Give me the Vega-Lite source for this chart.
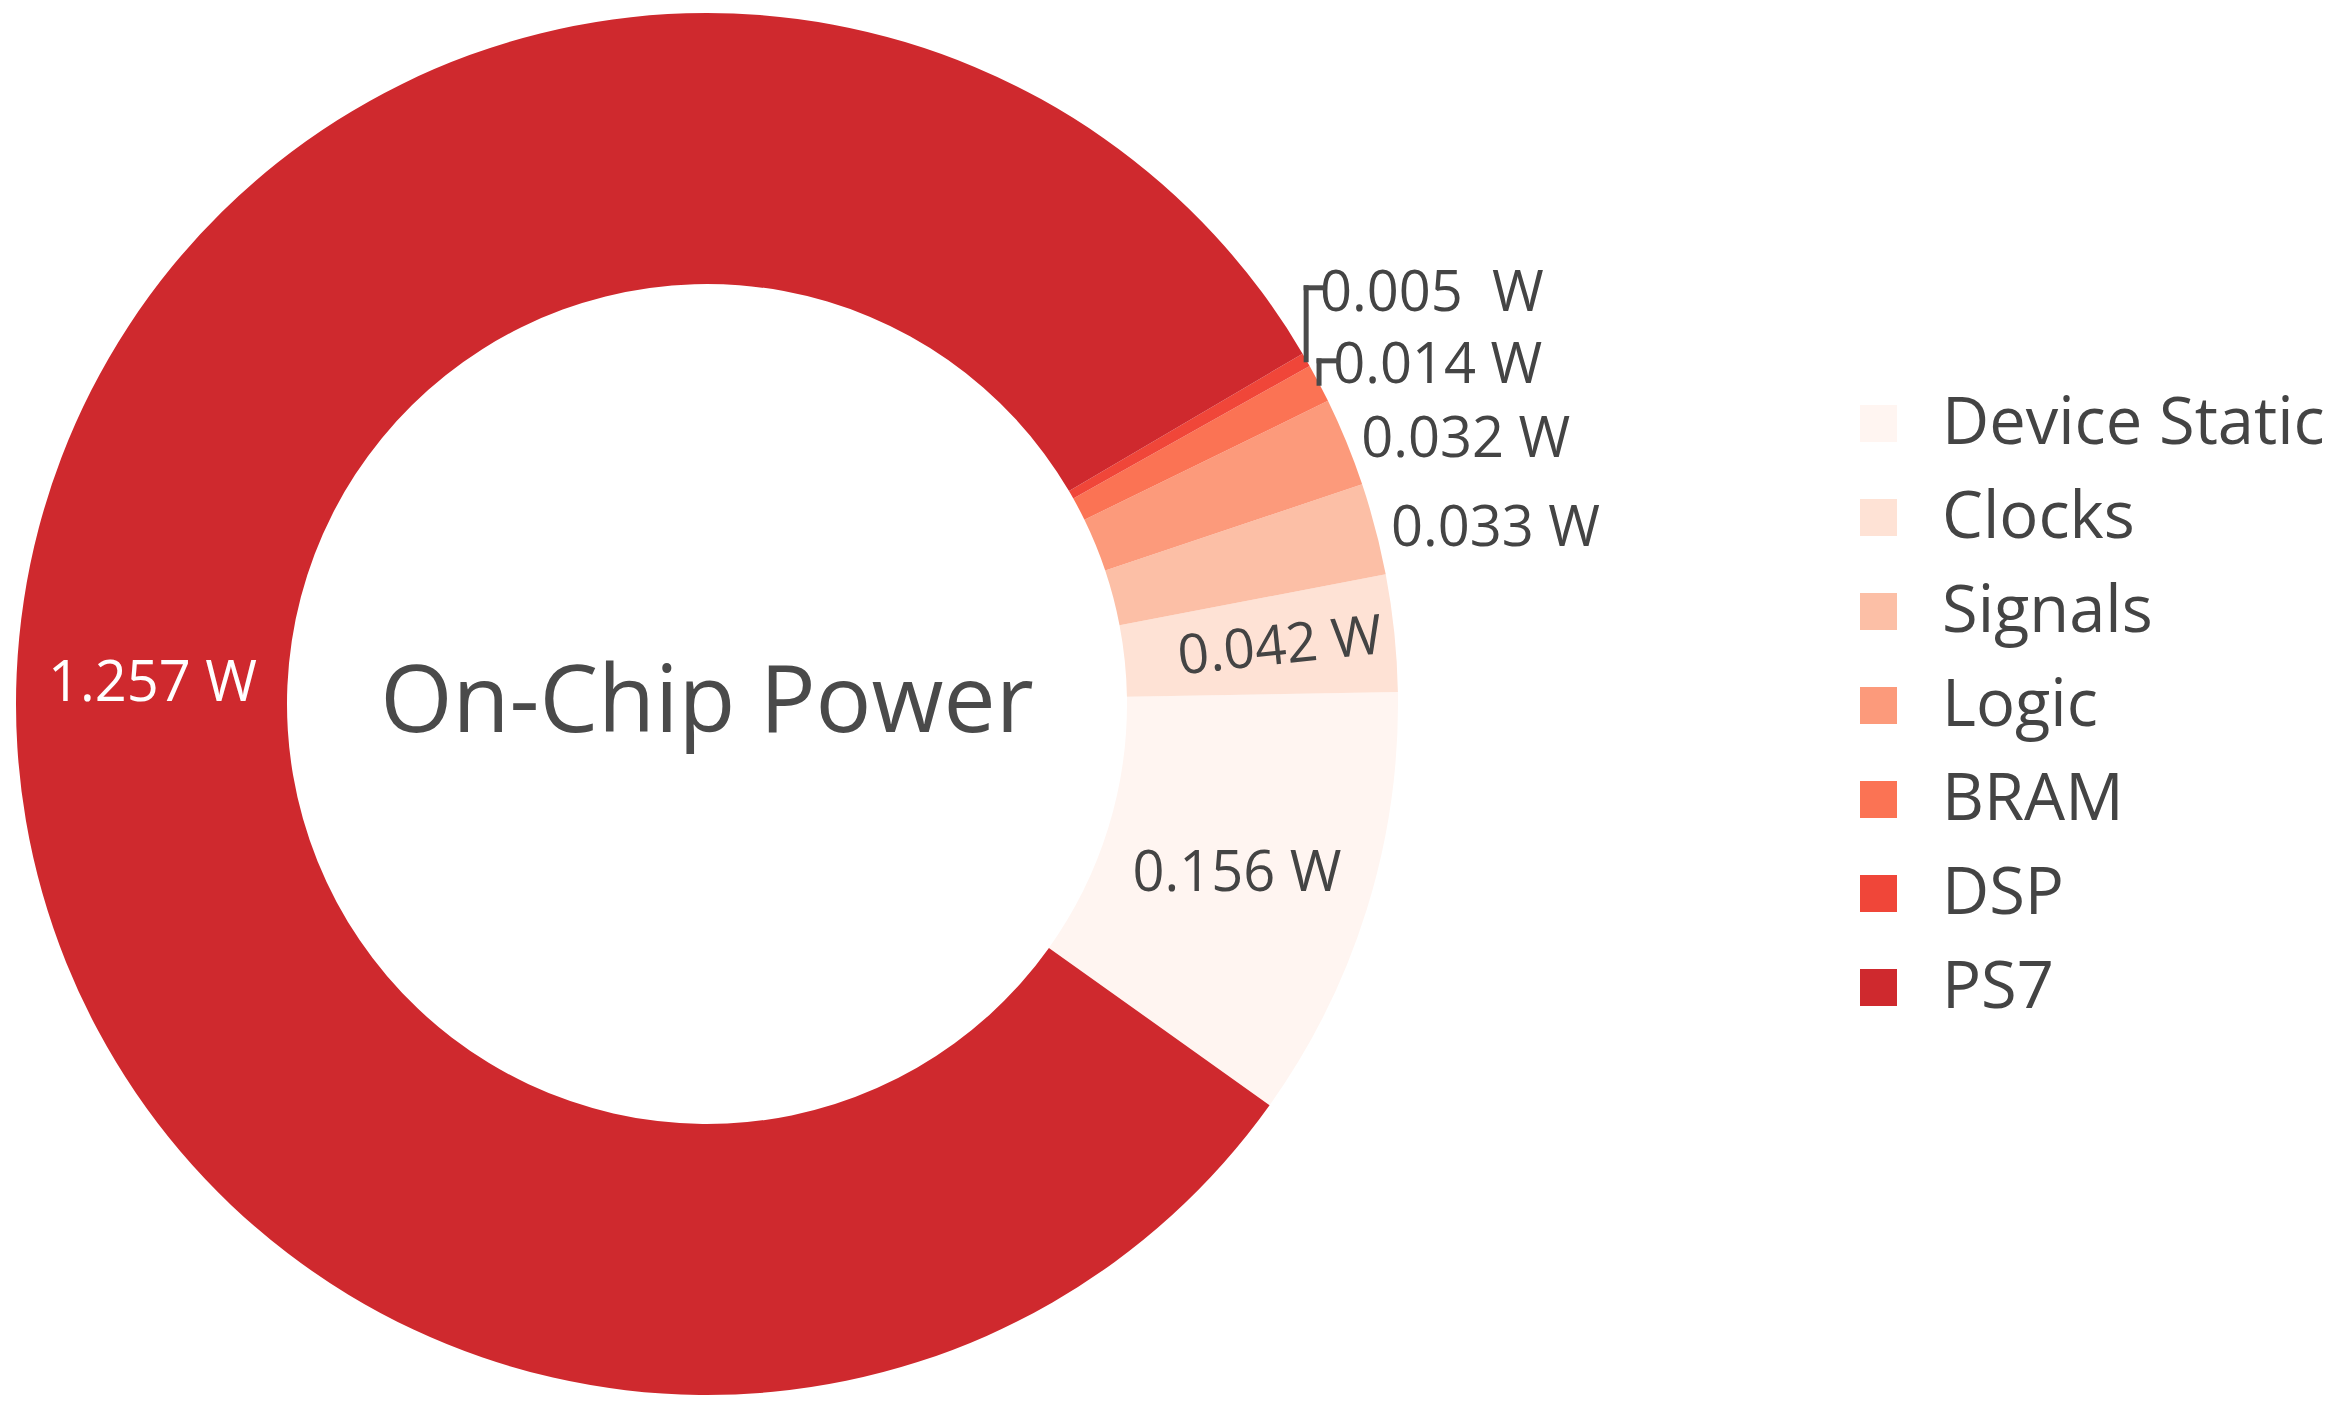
{
  "$schema": "https://vega.github.io/schema/vega-lite/v6.json",
  "width": 1414,
  "height": 1408,
  "padding": 0,
  "background": "white",
  "config": {"view": {"stroke": null}},
  "data": {
    "values": [
      {"component": "Device Static", "power": 0.156, "label": "0.156 W", "rank": 1},
      {"component": "Clocks", "power": 0.042, "label": "0.042 W", "rank": 2},
      {"component": "Signals", "power": 0.033, "label": "0.033 W", "rank": 3},
      {"component": "Logic", "power": 0.032, "label": "0.032 W", "rank": 4},
      {"component": "BRAM", "power": 0.014, "label": "0.014 W", "rank": 5},
      {"component": "DSP", "power": 0.005, "label": "0.005\u00a0 W", "rank": 6},
      {"component": "PS7", "power": 1.257, "label": "1.257 W", "rank": 7}
    ]
  },
  "encoding": {
    "theta": {"field": "power", "type": "quantitative", "stack": true, "scale": {"range": [2.1904, -4.0928]}},
    "order": {"field": "rank", "type": "quantitative"},
    "detail": {"field": "component", "type": "nominal"}
  },
  "layer": [
    {
      "mark": {"type": "arc", "outerRadius": 691, "innerRadius": 420, "strokeWidth": 0},
      "encoding": {
        "color": {
          "field": "component",
          "type": "nominal",
          "scale": {
            "domain": ["Device Static", "Clocks", "Signals", "Logic", "BRAM", "DSP", "PS7"],
            "range": ["#fff5f1", "#fee2d5", "#fcbfa6", "#fc9a7b", "#fb7354", "#f04639", "#cf292e"]
          },
          "legend": {
            "title": null,
            "orient": "none",
            "legendX": 1846,
            "legendY": 391,
            "padding": 0,
            "symbolType": "square",
            "symbolSize": 1369,
            "symbolStrokeWidth": 0,
            "labelFont": "Open Sans",
            "labelFontSize": 65,
            "labelColor": "#444444",
            "labelOffset": 31,
            "labelLimit": 700,
            "rowPadding": 28
          }
        }
      }
    },
    {
      "mark": {"type": "text", "radius": 555, "dy": 4, "font": "Open Sans", "fontSize": 56, "color": "white", "align": "center", "baseline": "middle"},
      "encoding": {"text": {"condition": {"test": "datum.component === 'PS7'", "field": "label"}, "value": ""}}
    },
    {
      "mark": {"type": "text", "radius": 555, "dy": 5, "font": "Open Sans", "fontSize": 56, "color": "#444444", "align": "center", "baseline": "middle"},
      "encoding": {"text": {"condition": {"test": "datum.component === 'Device Static'", "field": "label"}, "value": ""}}
    },
    {
      "mark": {"type": "text", "radius": 576, "dy": 2, "angle": -6, "font": "Open Sans", "fontSize": 55, "color": "#444444", "align": "center", "baseline": "middle"},
      "encoding": {"text": {"condition": {"test": "datum.component === 'Clocks'", "field": "label"}, "value": ""}}
    },
    {
      "mark": {"type": "text", "radius": 707, "dy": 4, "font": "Open Sans", "fontSize": 56, "color": "#444444", "align": "left", "baseline": "middle"},
      "encoding": {"text": {"condition": {"test": "datum.component === 'Signals' || datum.component === 'Logic'", "field": "label"}, "value": ""}}
    },
    {
      "mark": {"type": "text", "radius": 707, "dy": -10, "font": "Open Sans", "fontSize": 56, "color": "#444444", "align": "left", "baseline": "middle"},
      "encoding": {"text": {"condition": {"test": "datum.component === 'BRAM'", "field": "label"}, "value": ""}}
    },
    {
      "mark": {"type": "text", "radius": 707, "dy": -58, "font": "Open Sans", "fontSize": 56, "color": "#444444", "align": "left", "baseline": "middle"},
      "encoding": {"text": {"condition": {"test": "datum.component === 'DSP'", "field": "label"}, "value": ""}}
    },
    {
      "transform": [
        {"joinaggregate": [{"op": "sum", "field": "power", "as": "total"}]},
        {"window": [{"op": "sum", "field": "power", "as": "cum"}], "sort": [{"field": "rank"}], "frame": [null, 0]},
        {"filter": "datum.component === 'DSP' || datum.component === 'BRAM'"},
        {"calculate": "2.1904 - 2 * PI * (datum.cum - datum.power / 2) / datum.total", "as": "mid"},
        {"calculate": "691 * sin(datum.mid)", "as": "ex"},
        {"calculate": "691 * cos(datum.mid)", "as": "ey"},
        {"calculate": "707 * sin(datum.mid) + 3", "as": "lx"},
        {"calculate": "707 * cos(datum.mid) + (datum.component === 'DSP' ? 64 : 15)", "as": "ly"}
      ],
      "layer": [
        {
          "mark": {"type": "rule", "color": "#4a4a4a", "strokeWidth": 5, "strokeCap": "square"},
          "encoding": {
            "theta": null, "order": null, "detail": null,
            "x": {"field": "ex", "type": "quantitative", "scale": {"domain": [-707, 707], "nice": false, "zero": false}, "axis": null},
            "y": {"field": "ey", "type": "quantitative", "scale": {"domain": [-704, 704], "nice": false, "zero": false}, "axis": null},
            "y2": {"field": "ly"}
          }
        },
        {
          "mark": {"type": "rule", "color": "#4a4a4a", "strokeWidth": 5, "strokeCap": "square"},
          "encoding": {
            "theta": null, "order": null, "detail": null,
            "x": {"field": "ex", "type": "quantitative", "scale": {"domain": [-707, 707], "nice": false, "zero": false}, "axis": null},
            "x2": {"field": "lx"},
            "y": {"field": "ly", "type": "quantitative", "scale": {"domain": [-704, 704], "nice": false, "zero": false}, "axis": null}
          }
        }
      ]
    },
    {
      "data": {"values": [{"title": "On-Chip Power"}]},
      "mark": {"type": "text", "font": "Open Sans", "fontSize": 93, "color": "#4a4a4a", "align": "center", "baseline": "middle"},
      "encoding": {"text": {"field": "title", "type": "nominal"}, "theta": null, "order": null, "detail": null}
    }
  ]
}
